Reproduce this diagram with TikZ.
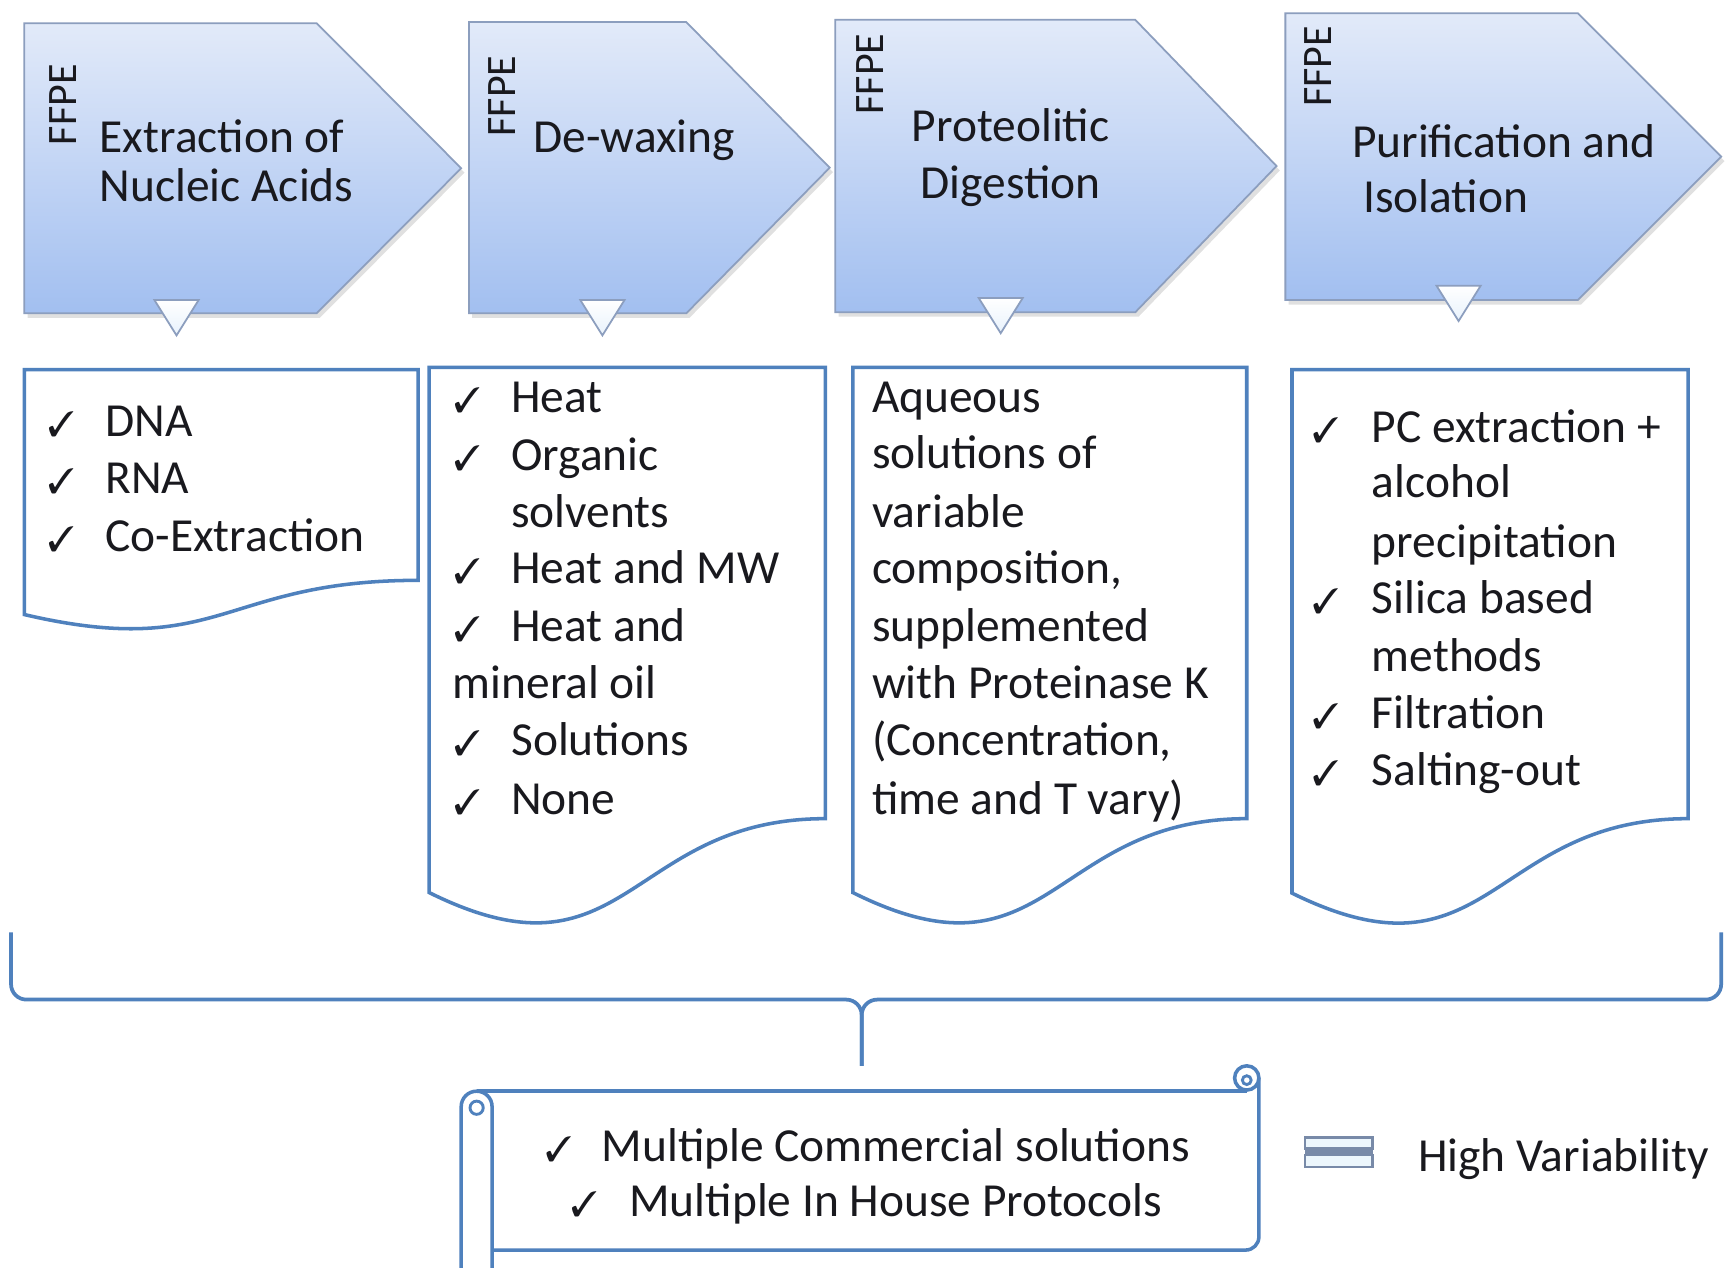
\documentclass[tikz,border=0pt]{standalone}
\usepackage{fontspec}
\setmainfont{Carlito}
\usepackage{pifont}
\definecolor{chevtop}{RGB}{226,234,249}
\definecolor{chevbot}{RGB}{162,191,240}
\definecolor{chevline}{RGB}{140,158,190}
\definecolor{docblue}{RGB}{79,129,189}
\definecolor{txt}{RGB}{25,25,30}
\definecolor{trilow}{RGB}{232,242,252}
\definecolor{legline}{RGB}{120,138,168}
\definecolor{legfill}{RGB}{236,246,252}
\newcommand\chkline[5]{%
  \node[ck] (#1c) at (#2,#4) {\ding{51}};
  \node[lst] (#1) at (#3,#4) {#5};}
\begin{document}
\begin{tikzpicture}[x=0.5pt,y=-0.5pt,
  chev/.style={draw=chevline, line width=0.8pt, top color=chevtop, bottom color=chevbot},
  chevshadow/.style={fill=black, opacity=0.12},
  tri/.style={draw=chevline, line width=0.8pt, top color=white, bottom color=trilow},
  docbox/.style={draw=docblue, line width=1.6pt, fill=white},
  brace/.style={draw=docblue, line width=1.7pt, rounded corners=7pt},
  ttl/.style={font=\fontsize{21.5}{24}\selectfont, inner sep=0pt, text=txt, anchor=base west},
  ttlc/.style={font=\fontsize{21.5}{24}\selectfont, inner sep=0pt, text=txt, anchor=base},
  lst/.style={font=\fontsize{21.5}{26}\selectfont, inner sep=0pt, text=txt, anchor=base west},
  ck/.style={font=\fontsize{16}{20}\selectfont, inner sep=0pt, text=txt, anchor=base west},
  ffpe/.style={font=\fontsize{19}{20}\selectfont, rotate=90, inner sep=0pt, text=txt}]
\useasboundingbox (0,0) rectangle (1568,1149);
\fill[white] (0,0) rectangle (1568,1149);

% chevron shadows
\fill[chevshadow] (25,25) -- (290,25) -- (421,156.5) -- (290,288) -- (25,288) -- cycle;
\fill[chevshadow] (428,24) -- (625,24) -- (755,156) -- (625,288) -- (428,288) -- cycle;
\fill[chevshadow] (760,22) -- (1032,22) -- (1160,154.5) -- (1032,287) -- (760,287) -- cycle;
\fill[chevshadow] (1168,16) -- (1433,16) -- (1563,146) -- (1433,276) -- (1168,276) -- cycle;

% chevrons
\path[chev] (22,21) -- (287,21) -- (418,152.5) -- (287,284) -- (22,284) -- cycle;
\path[chev] (425,20) -- (622,20) -- (752,152) -- (622,284) -- (425,284) -- cycle;
\path[chev] (757,18) -- (1029,18) -- (1157,150.5) -- (1029,283) -- (757,283) -- cycle;
\path[chev] (1165,12) -- (1430,12) -- (1560,142) -- (1430,272) -- (1165,272) -- cycle;

% small triangles
\path[tri] (140,272) -- (180,272) -- (160,304) -- cycle;
\path[tri] (526,272) -- (566,272) -- (546,304) -- cycle;
\path[tri] (887,270) -- (927,270) -- (907,302) -- cycle;
\path[tri] (1302,259) -- (1342,259) -- (1322,291) -- cycle;

% FFPE labels
\node[ffpe] (f1) at (57,95) {FFPE};
\node[ffpe] (f2) at (455,87) {FFPE};
\node[ffpe] (f3) at (789,67) {FFPE};
\node[ffpe] (f4) at (1195,60) {FFPE};

% titles
\node[ttl] (t1a) at (90,138) {Extraction of};
\node[ttl] (t1b) at (90,183) {Nucleic Acids};
\node[ttl] (t2a) at (483,138) {De-waxing};
\node[ttlc] (t3a) at (916,128) {Proteolitic};
\node[ttlc] (t3b) at (916,180) {Digestion};
\node[ttl] (t4a) at (1225,143) {Purification and};
\node[ttl] (t4b) at (1235,193) {Isolation};

% document boxes
\path[docbox] (22,335) -- (379,335) -- (379,526) .. controls (200.5,526) and (200.5,598.6) .. (22,557) -- cycle;
\path[docbox] (389,333) -- (748,333) -- (748,742) .. controls (568.5,742) and (568.5,898) .. (389,809) -- cycle;
\path[docbox] (773,333) -- (1130,333) -- (1130,742) .. controls (951.5,742) and (951.5,898) .. (773,809) -- cycle;
\path[docbox] (1171,335) -- (1530,335) -- (1530,742) .. controls (1350.5,742) and (1350.5,898) .. (1171,809.5) -- cycle;

% list 1
\chkline{a1}{43}{95}{396}{DNA}
\chkline{a2}{43}{95}{447}{RNA}
\chkline{a3}{43}{95}{500}{Co-Extraction}
% list 2
\chkline{b1}{411}{463}{374}{Heat}
\chkline{b2}{411}{463}{426}{Organic}
\node[lst] (b2b) at (463,478) {solvents};
\chkline{b3}{411}{463}{529}{Heat and MW}
\chkline{b4}{411}{463}{581}{Heat and}
\node[lst] (b4b) at (410,633) {mineral oil};
\chkline{b5}{411}{463}{685}{Solutions}
\chkline{b6}{411}{463}{738}{None}
% list 3
\node[lst] (c1) at (790,374) {Aqueous};
\node[lst] (c2) at (790,425) {solutions of};
\node[lst] (c3) at (790,478) {variable};
\node[lst] (c4) at (790,529) {composition,};
\node[lst] (c5) at (790,581) {supplemented};
\node[lst] (c6) at (790,633) {with Proteinase K};
\node[lst] (c7) at (790,685) {(Concentration,};
\node[lst] (c8) at (790,738) {time and T vary)};
% list 4
\chkline{d1}{1189}{1243}{401}{PC extraction +}
\node[lst] (d1b) at (1243,451) {alcohol};
\node[lst] (d1c) at (1243,505) {precipitation};
\chkline{d2}{1189}{1243}{556}{Silica based}
\node[lst] (d2b) at (1243,609) {methods};
\chkline{d3}{1189}{1243}{660}{Filtration}
\chkline{d4}{1189}{1243}{712}{Salting-out}

% brace
\draw[brace] (10,845) -- (10,906) -- (781,906) -- (781,966);
\draw[brace] (1560,845) -- (1560,906) -- (781,906) -- (781,966);

% scroll
\path[fill=white] (432,989) rectangle (1141,1133);
\draw[docblue, line width=1.6pt, rounded corners=6pt] (1141,977) -- (1141,1133) -- (446,1133);
\draw[docblue, line width=1.6pt] (432,989) -- (1130,989);
\draw[docblue, line width=1.6pt, fill=white] (1130,977) circle[radius=5.5pt];
\draw[docblue, line width=1.3pt] (1130,979) circle[radius=2pt];
\draw[docblue, line width=1.6pt, fill=white] (418,1160) -- (418,1003) arc[start angle=180, end angle=0, radius=7pt] -- (446,1160);
\draw[docblue, line width=1.3pt] (432,1004) circle[radius=3pt];

\chkline{e1}{494}{545}{1053}{Multiple Commercial solutions}
\chkline{e2}{517}{570}{1103}{Multiple In House Protocols}

% legend
\draw[line width=1pt, draw=legline, fill=legfill] (1183,1031) rectangle (1244,1041);
\fill[legline] (1183,1041) rectangle (1244,1047);
\draw[line width=1pt, draw=legline, fill=legfill] (1183,1047) rectangle (1244,1058);
\node[lst] (hv) at (1285,1062) {High Variability};
\end{tikzpicture}
\end{document}
